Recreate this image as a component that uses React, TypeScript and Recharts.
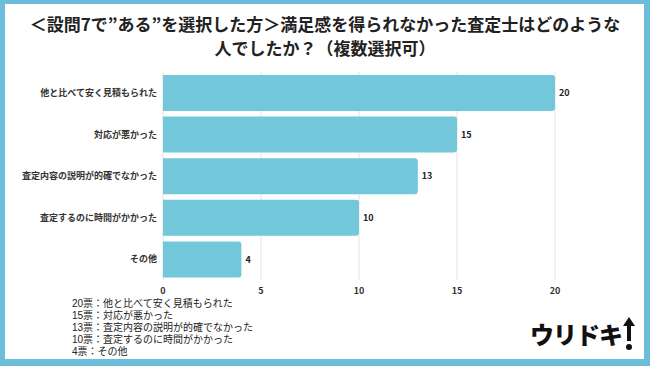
import { BarChart, Bar, XAxis, YAxis, CartesianGrid, LabelList } from 'recharts';

const categories = [
  '他と比べて安く見積もられた',
  '対応が悪かった',
  '査定内容の説明が的確でなかった',
  '査定するのに時間がかかった',
  'その他',
];
const votes = [20, 15, 13, 10, 4];
const xTicks = [0, 5, 10, 15, 20];

const titleLines = [
  '＜設問7で”ある”を選択した方＞満足感を得られなかった査定士はどのような',
  '人でしたか？（複数選択可）',
];

const data = categories.map((name, i) => ({ name, value: votes[i] }));

const font = '"Noto Sans CJK JP", "Noto Sans", sans-serif';

export default function App() {
  return (
    <div
      style={{
        position: 'absolute',
        left: 0,
        top: 0,
        width: 650,
        height: 366,
        boxSizing: 'border-box',
        background: '#fff',
        borderStyle: 'solid',
        borderColor: '#6cbdd9',
        borderWidth: '4px 6px 7px 5px',
        fontFamily: font,
        overflow: 'hidden',
      }}
    >
      <div
        style={{
          position: 'absolute',
          left: -5,
          top: 8,
          width: 650,
          textAlign: 'center',
          fontSize: 17,
          fontWeight: 700,
          lineHeight: '24px',
          color: '#222',
        }}
      >
        {titleLines.map((t) => (
          <div key={t}>{t}</div>
        ))}
      </div>

      <div style={{ position: 'absolute', left: -5, top: -4 }}>
        <BarChart
          width={650}
          height={300}
          data={data}
          layout="vertical"
          margin={{ top: 72, right: 95, bottom: 0, left: 0 }}
          barCategoryGap={3}
        >
          <CartesianGrid horizontal={false} stroke="#e3e3e3" />
          <XAxis
            type="number"
            domain={[0, 20]}
            ticks={xTicks}
            axisLine={false}
            tickLine={false}
            height={20}
            tick={{ fontSize: 9, fill: '#333', fontWeight: 700 }}
            tickMargin={2}
          />
          <YAxis
            type="category"
            dataKey="name"
            width={163}
            axisLine={false}
            tickLine={false}
            tickMargin={0}
            tick={{ fontSize: 9, fill: '#333', fontWeight: 700 }}
          />
          <Bar dataKey="value" fill="#72c8da" radius={[0, 3, 3, 0]} isAnimationActive={false}>
            <LabelList
              dataKey="value"
              position="right"
              offset={4}
              style={{ fontSize: 9, fill: '#222', fontWeight: 700 }}
            />
          </Bar>
        </BarChart>
      </div>

      <div
        style={{
          position: 'absolute',
          left: 67,
          top: 294,
          fontFamily: '"Liberation Sans", "Noto Sans CJK JP", sans-serif',
          fontSize: 10,
          lineHeight: '12px',
          color: '#222',
        }}
      >
        {categories.map((c, i) => (
          <div key={c}>{`${votes[i]}票：${c}`}</div>
        ))}
      </div>

      <div
        style={{
          position: 'absolute',
          left: 525,
          top: 312,
          display: 'flex',
          alignItems: 'center',
          fontSize: 24,
          fontWeight: 900,
          letterSpacing: -1,
          color: '#111',
        }}
      >
        <span>ウリドキ</span>
        <svg width={12} height={34} viewBox="0 0 12 34" style={{ marginLeft: 1 }}>
          <polygon points="6,0 12,9 8,9 8,24 4,24 4,9 0,9" fill="#111" />
          <circle cx={6} cy={30} r={3} fill="#111" />
        </svg>
      </div>
    </div>
  );
}
